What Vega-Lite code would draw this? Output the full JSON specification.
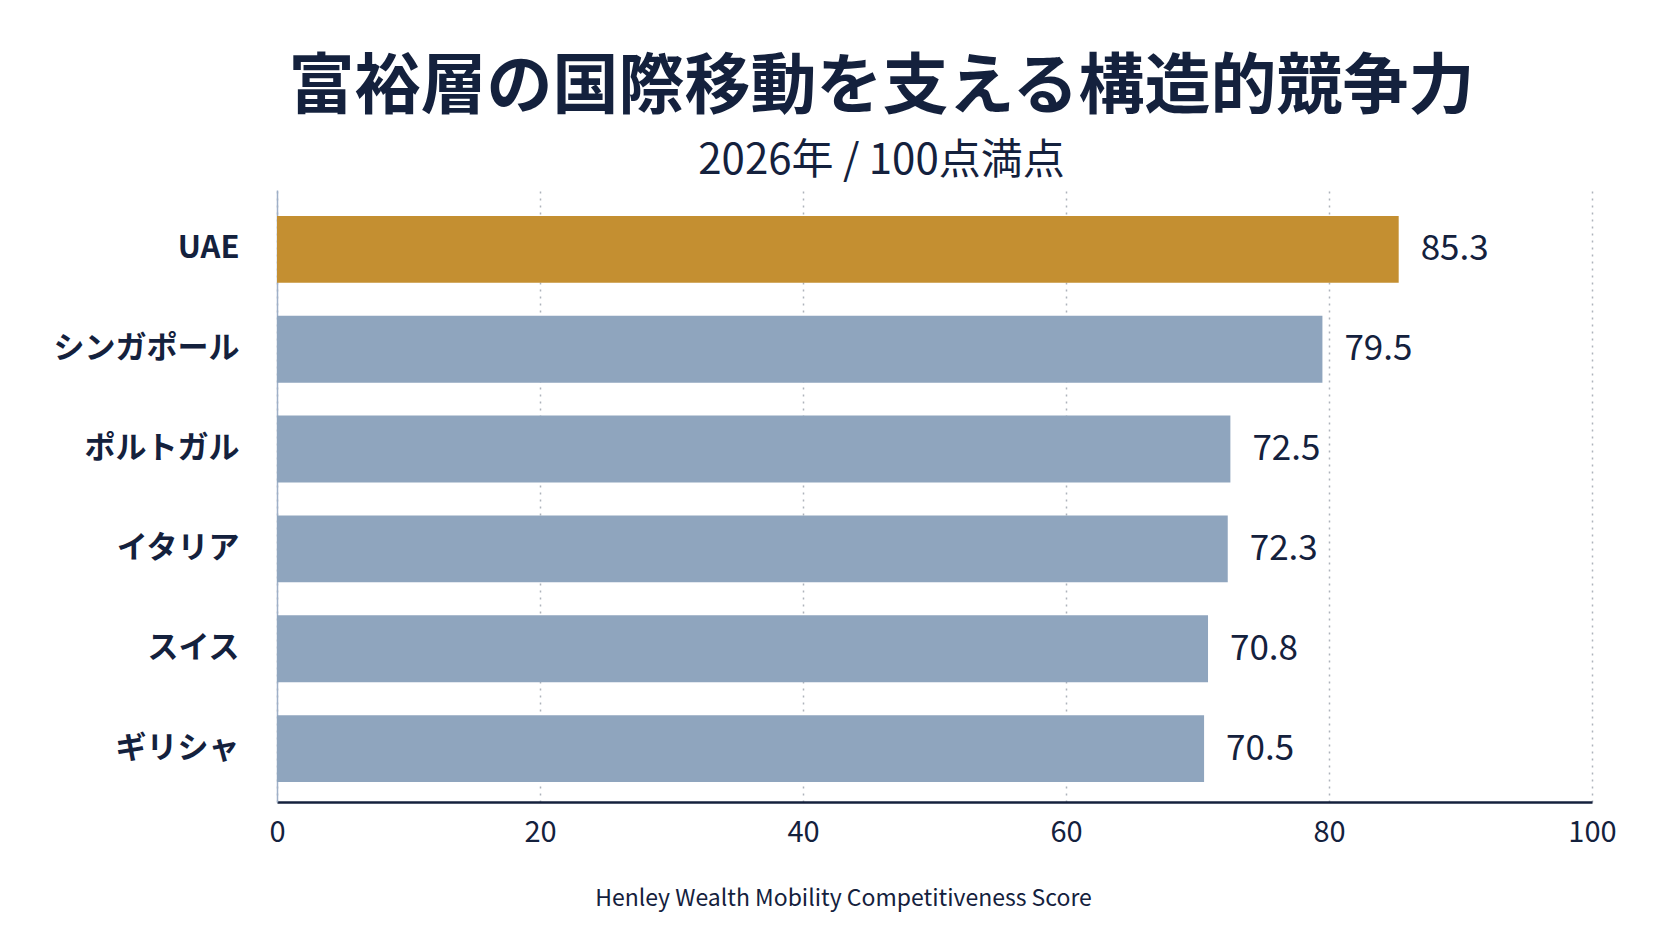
{
  "$schema": "https://vega.github.io/schema/vega-lite/v6.json",
  "autosize": {"type": "none"},
  "padding": {"left": 277, "top": 190, "right": 80, "bottom": 139},
  "width": 1315,
  "height": 612,
  "background": "#ffffff",
  "config": {
    "font": "Noto Sans CJK JP",
    "view": {"stroke": null},
    "title": {
      "font": "Noto Sans CJK JP",
      "fontSize": 66,
      "fontWeight": "bold",
      "color": "#14213d",
      "subtitleFont": "Noto Sans CJK JP",
      "subtitleFontSize": 42,
      "subtitleColor": "#14213d",
      "subtitlePadding": 19,
      "anchor": "middle",
      "frame": "group",
      "dx": -53,
      "offset": 7
    }
  },
  "title": {"text": "富裕層の国際移動を支える構造的競争力", "subtitle": "2026年 / 100点満点"},
  "data": {
    "values": [
      {"country": "UAE", "score": 85.3},
      {"country": "シンガポール", "score": 79.5},
      {"country": "ポルトガル", "score": 72.5},
      {"country": "イタリア", "score": 72.3},
      {"country": "スイス", "score": 70.8},
      {"country": "ギリシャ", "score": 70.5}
    ]
  },
  "encoding": {
    "y": {
      "field": "country",
      "type": "nominal",
      "sort": null,
      "scale": {"paddingInner": 0.33, "paddingOuter": 0.23, "align": 0.565},
      "axis": {
        "title": null,
        "ticks": false,
        "tickSize": 0,
        "labelPadding": 38,
        "labelLimit": 400,
        "labelFontSize": 31,
        "labelFontWeight": "bold",
        "labelColor": "#14213d",
        "labelFont": "Noto Sans CJK JP",
        "domainColor": "#9fb0c8",
        "domainWidth": 1.5,
        "grid": false
      }
    },
    "x": {
      "field": "score",
      "type": "quantitative",
      "scale": {"domain": [0, 100], "nice": false},
      "axis": {
        "title": "Henley Wealth Mobility Competitiveness Score",
        "titleFont": "Noto Sans CJK JP",
        "titleFontSize": 23,
        "titleFontWeight": "normal",
        "titleColor": "#14213d",
        "titlePadding": 40,
        "titleX": 566,
        "values": [0, 20, 40, 60, 80, 100],
        "ticks": false,
        "tickSize": 0,
        "labelFlush": false,
        "labelPadding": 16,
        "labelFontSize": 29,
        "labelColor": "#14213d",
        "labelFont": "Noto Sans CJK JP",
        "domainColor": "#14213d",
        "domainWidth": 2.5,
        "grid": true,
        "gridColor": "#aeb3bb",
        "gridDash": [2, 5],
        "gridWidth": 1.5
      }
    }
  },
  "layer": [
    {
      "mark": {"type": "bar"},
      "encoding": {
        "color": {
          "condition": {"test": "datum.country === 'UAE'", "value": "#c48f31"},
          "value": "#8fa5be"
        }
      }
    },
    {
      "mark": {
        "type": "text",
        "align": "left",
        "baseline": "middle",
        "dx": 22,
        "fontSize": 35,
        "color": "#14213d",
        "font": "Noto Sans CJK JP"
      },
      "encoding": {"text": {"field": "score", "type": "quantitative", "format": ".1f"}}
    }
  ]
}
